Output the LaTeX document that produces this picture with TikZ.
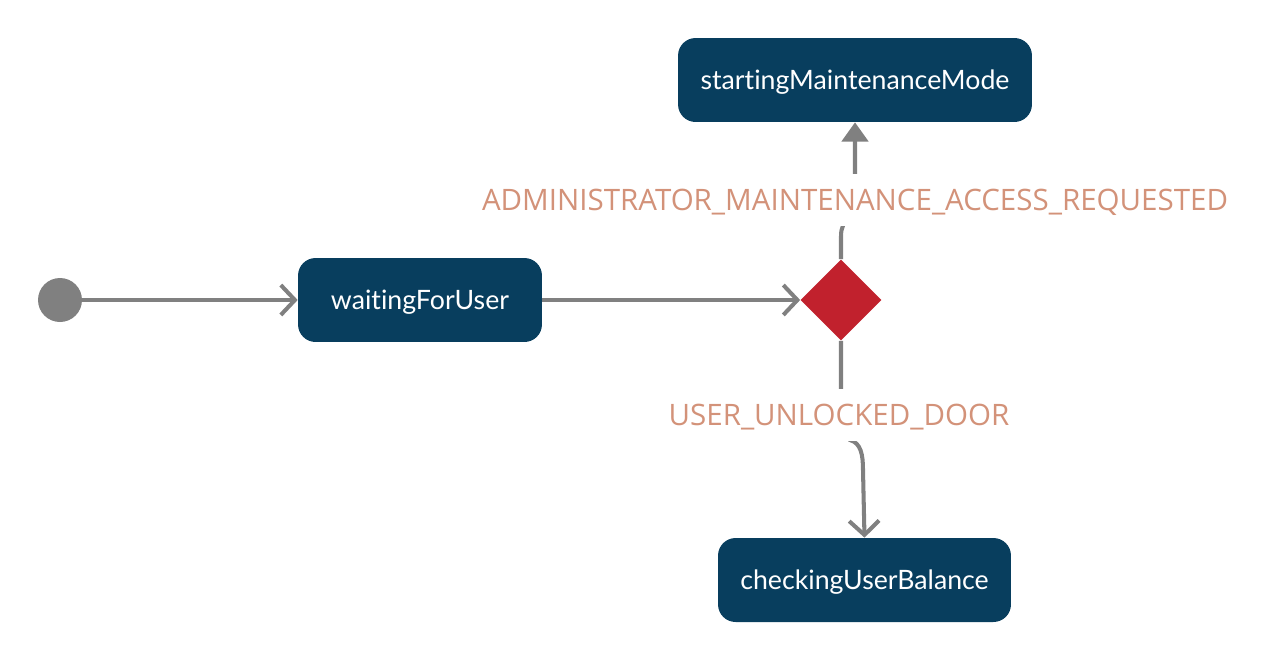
\documentclass[tikz,border=0pt]{standalone}
\usepackage{fontspec}
\usepackage{tikz}
\usetikzlibrary{arrows.meta,shapes.geometric}
\newfontfamily\statefont[Ligatures={NoCommon,NoRare}]{Lato}
\newfontfamily\eventfont{Open Sans}
\definecolor{statebg}{RGB}{8,62,94}
\definecolor{choicered}{RGB}{193,33,45}
\definecolor{flowgray}{RGB}{128,128,128}
\definecolor{eventtxt}{RGB}{211,146,121}

\begin{document}
\begin{tikzpicture}[x=0.02cm,y=-0.02cm,
  state/.style={fill=statebg,text=white,rounded corners=10pt,minimum height=1.68cm,
    inner sep=0pt,text height=12pt,text depth=1.2pt,
    font=\statefont\fontsize{15.2}{17}\selectfont},
  choice/.style={diamond,fill=choicered,minimum size=1.62cm,inner sep=0pt},
  flow/.style={draw=flowgray,line width=2.3pt},
  open/.style={-{Straight Barb[length=8pt,width=17pt,line width=2.3pt]}},
  event/.style={fill=white,text=eventtxt,inner xsep=2pt,inner ysep=7.8pt,
    text height=13pt,text depth=1pt,
    font=\eventfont\fontsize{16.8}{19}\selectfont}]
  \useasboundingbox (0,0) rectangle (1271,660);
  \node[circle,fill=flowgray,minimum size=0.88cm,inner sep=0pt] (init) at (60,300) {};
  \node[state,minimum width=4.88cm] (wait) at (420,300) {waitingForUser};
  \node[choice] (dec) at (841,300) {};
  \node[state,minimum width=7.08cm] (maint) at (855,80) {startingMaintenanceMode};
  \node[state,minimum width=5.86cm] (check) at (864.5,580) {checkingUserBalance};
  \draw[flow,open]
  (init) -- (wait);
  \draw[flow,open]
  (wait) -- (dec);
  \draw[flow,-{Triangle[length=11pt,width=15pt]}]
  (dec.north)
  -- (841,236)
  .. controls (841,218) and (855,216) .. (855,198)
  -- (maint.south);
  \draw[flow,open]
  (dec.south)
  -- (841,415)
  -- (850,440)
  .. controls (861,443) and (863,455) .. (863,470)
  -- (check.north);
  \node[event] (adm) at (855,200) {ADMINISTRATOR\_MAINTENANCE\_ACCESS\_REQUESTED};
  \node[event] (unl) at (839,415) {USER\_UNLOCKED\_DOOR};
\end{tikzpicture}
\end{document}
